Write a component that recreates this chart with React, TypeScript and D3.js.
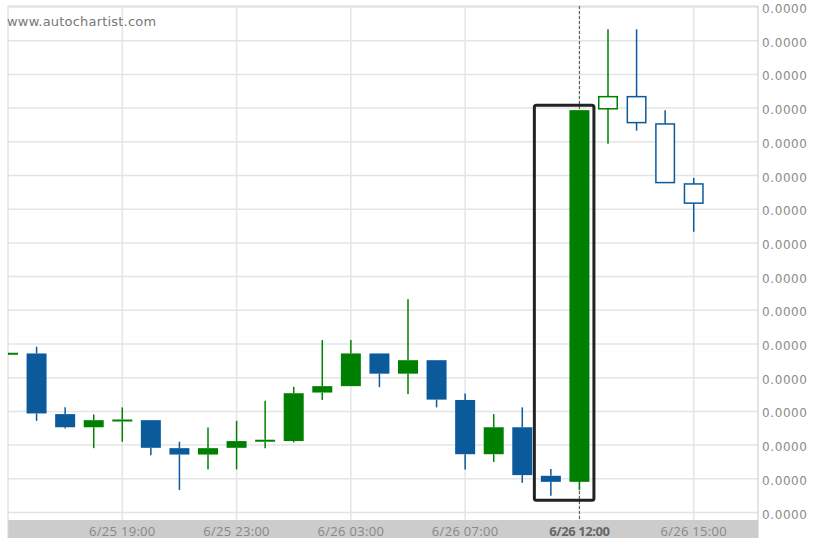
import React from 'react';
import * as d3 from 'd3';

// candle values, in millionths (all labels round to 0.0000)
const opens = [4.74, 4.72, 2.92, 2.53, 2.74, 2.74, 1.91, 1.72, 1.92, 2.14, 2.12, 3.56, 3.75, 4.72, 4.12, 4.52, 3.34, 1.73, 2.53, 1.09, 0.91, 11.98, 12.34, 11.53, 9.75];
const closes = [4.74, 2.94, 2.53, 2.74, 2.76, 1.92, 1.72, 1.91, 2.12, 2.16, 3.54, 3.75, 4.72, 4.12, 4.52, 3.35, 1.73, 2.53, 1.11, 0.91, 11.94, 12.34, 11.57, 9.79, 9.18];
const highs = [4.74, 4.92, 3.12, 2.91, 3.12, 2.74, 2.10, 2.52, 2.72, 3.32, 3.73, 5.12, 5.12, 4.72, 6.33, 4.52, 3.53, 2.92, 3.12, 1.29, 11.94, 14.34, 14.34, 11.94, 9.93];
const lows = [4.74, 2.72, 2.49, 1.91, 2.10, 1.70, 0.67, 1.28, 1.28, 1.91, 2.08, 3.34, 3.75, 3.72, 3.52, 3.12, 1.28, 1.50, 0.88, 0.50, 0.67, 10.94, 11.33, 9.79, 8.33];

const tickIndex = [4, 8, 12, 16, 20, 24];
const tickLabels = ['6/25 19:00', '6/25 23:00', '6/26 03:00', '6/26 07:00', '6/26 12:00', '6/26 15:00'];
const priceTicks = d3.range(0, 16);

const patternStart = 19;
const patternEnd = 20;
const hollowFrom = 21;

const W = 822;
const H = 548;
const left = 8;
const right = 758;
const top = 6;
const plotBottom = 520;
const bandBottom = 538;

const GREEN = '#008000';
const BLUE = '#0b5a9c';
const GRID = '#e4e4e4';

const App: React.FC = () => {
  const x = d3.scaleLinear().domain([0, 26.25]).range([left, right]);
  const y = d3.scaleLinear().domain([-0.222, 15.03]).range([plotBottom, top]);
  const fmt = (v: number) => d3.format('.4f')(v / 1e6);
  const cw = 20;

  const candles = opens.map((o, i) => ({ i, o, c: closes[i], h: highs[i], l: lows[i] }));

  const pHigh = d3.max(candles.slice(patternStart, patternEnd + 1), d => d.h) as number;
  const pLow = d3.min(candles.slice(patternStart, patternEnd + 1), d => d.l) as number;

  return (
    <svg width={W} height={H} style={{ position: 'absolute', left: 0, top: 0, background: '#fff' }}>
      <defs>
        <clipPath id="plot">
          <rect x={left} y={top} width={right - left} height={plotBottom - top} />
        </clipPath>
      </defs>

      {/* grid */}
      {priceTicks.map(t => (
        <line key={'h' + t} x1={left} x2={right} y1={y(t)} y2={y(t)} stroke={GRID} strokeWidth={1.5} />
      ))}
      {tickIndex.map(t => (
        <line key={'v' + t} x1={x(t)} x2={x(t)} y1={top} y2={plotBottom} stroke={GRID} strokeWidth={1.5} />
      ))}

      {/* bottom band */}
      <rect x={left} y={plotBottom} width={right - left} height={bandBottom - plotBottom} fill="#cccccc" />
      {tickLabels.map((lab, k) => {
        const cur = tickIndex[k] === patternEnd;
        return (
          <text key={lab} x={x(tickIndex[k])} y={536} textAnchor="middle"
            fontFamily="'Open Sans', sans-serif" fontSize={13} letterSpacing={cur ? -0.4 : 0.3}
            fontWeight={cur ? 700 : 400} fill={cur ? '#666' : '#888'}>{lab}</text>
        );
      })}

      {/* frame */}
      <line x1={left} x2={right} y1={top} y2={top} stroke="#d6d6d6" />
      <line x1={left} x2={left} y1={top} y2={bandBottom} stroke="#d6d6d6" />
      <line x1={right} x2={right} y1={top} y2={bandBottom} stroke="#c8c8c8" />

      {/* right axis */}
      {priceTicks.map(t => (
        <text key={'l' + t} x={762} y={y(t) + 6} fontFamily="'DejaVu Sans', sans-serif"
          fontSize={12} letterSpacing={0.6} fill="#8a8a8a">{fmt(t)}</text>
      ))}

      <text x={7} y={26} fontFamily="'DejaVu Sans', sans-serif" fontSize={13} letterSpacing={0.2} fill="#777">www.autochartist.com</text>

      {/* current time marker */}
      <line x1={x(patternEnd)} x2={x(patternEnd)} y1={top} y2={plotBottom} stroke="#555" strokeDasharray="3,2" />

      <g clipPath="url(#plot)">
        {candles.map(d => {
          const up = d.c >= d.o;
          const col = up ? GREEN : BLUE;
          const cx = x(d.i);
          const yTop = y(Math.max(d.o, d.c));
          const yBot = y(Math.min(d.o, d.c));
          const hollow = d.i >= hollowFrom;
          const bh = Math.max(yBot - yTop, 2);
          return (
            <g key={d.i}>
              <line x1={cx} x2={cx} y1={y(d.h)} y2={yTop} stroke={col} strokeWidth={1.5} />
              <line x1={cx} x2={cx} y1={yTop + bh} y2={y(d.l)} stroke={col} strokeWidth={1.5} />
              {hollow ? (
                <rect x={cx - cw / 2 + 0.75} y={yTop} width={cw - 1.5} height={bh} fill="#fff" stroke={col} strokeWidth={1.5} />
              ) : (
                <rect x={cx - cw / 2} y={yTop} width={cw} height={bh} fill={col} />
              )}
            </g>
          );
        })}
      </g>

      {/* pattern highlight */}
      <rect x={x(patternStart) - 16.5} y={y(pHigh) - 5} width={x(patternEnd) - x(patternStart) + 31}
        height={y(pLow) - y(pHigh) + 9.5} fill="none" stroke="#222" strokeWidth={3} rx={2} />
    </svg>
  );
};

export default App;
